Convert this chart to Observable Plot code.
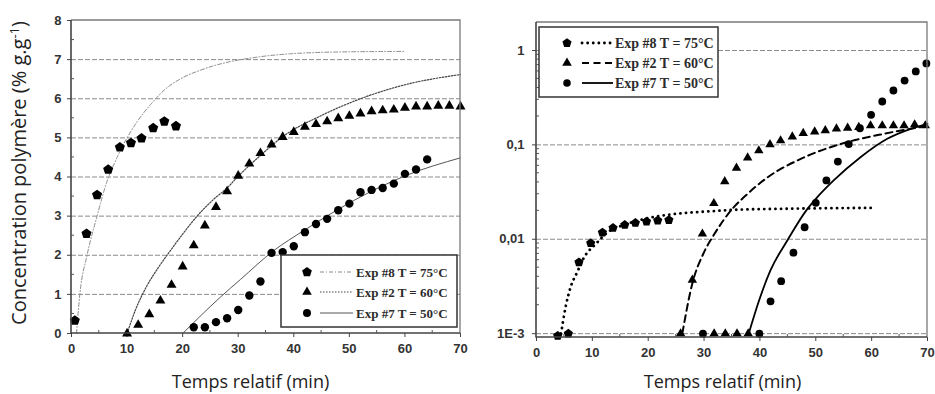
<!DOCTYPE html>
<html><head><meta charset="utf-8">
<script src="https://cdn.jsdelivr.net/npm/d3@7"></script>
<script src="https://cdn.jsdelivr.net/npm/@observablehq/plot@0.6"></script>
<style>
body{margin:0;background:#fff;}
#wrap{position:relative;width:935px;height:394px;overflow:hidden;background:#fff;}
#left{position:absolute;left:0;top:0;}
#right{position:absolute;left:470px;top:0;}
</style></head><body><div id="wrap"><div id="left"></div><div id="right"></div></div>
<script>
// ---------- DATA ----------
const seriesLabels = ["Exp #8 T = 75°C", "Exp #2 T = 60°C", "Exp #7 T = 50°C"];
const xTitle = "Temps relatif (min)";
const yTitleLeft = "Concentration polymère (% g.g";
const yTitleSup = "-1";

const xTicks = [0, 10, 20, 30, 40, 50, 60, 70];
const xMinor = [5, 15, 25, 35, 45, 55, 65];
const yTicksLeft = [0, 1, 2, 3, 4, 5, 6, 7, 8];
const yGridLeft = [1, 2, 3, 4, 5, 6, 7];
const yMinorLeft = [0.5, 1.5, 2.5, 3.5, 4.5, 5.5, 6.5, 7.5];
const yTicksRight = [0.001, 0.01, 0.1, 1];
const yTickLabelsRight = ["1E-3", "0,01", "0,1", "1"];
const yMinorRight = [0.002,0.003,0.004,0.005,0.006,0.007,0.008,0.009,0.02,0.03,0.04,0.05,0.06,0.07,0.08,0.09,0.2,0.3,0.4,0.5,0.6,0.7,0.8,0.9];

// Left panel (linear)
const exp8PtsLeft = [[0.6,0.33],[2.7,2.55],[4.6,3.54],[6.6,4.19],[8.7,4.76],[10.7,4.87],[12.6,4.99],[14.7,5.25],[16.7,5.42],[18.8,5.30]];
const exp8FitLeft = [[0.9,0],[1.5,1.0],[2.8,2.0],[4.6,3.0],[6.3,3.85],[8.2,4.5],[11.6,5.37],[14.4,5.88],[17,6.26],[19.5,6.5],[23.2,6.73],[28.6,6.95],[32.7,7.05],[39.4,7.15],[50,7.2],[60,7.21]];
const exp2PtsLeft = [[10,0],[12,0.22],[14,0.49],[16,0.84],[18,1.24],[20,1.71],[22,2.25],[24,2.76],[26,3.23],[28,3.63],[30,4.03],[32,4.34],[34,4.61],[36,4.83],[38,5.02],[40,5.15],[42,5.28],[44,5.35],[46,5.42],[48,5.5],[50,5.56],[52,5.62],[54,5.68],[56,5.7],[58,5.72],[60,5.77],[62,5.8],[64,5.8],[66,5.82],[68,5.82],[70,5.8]];
const exp2FitLeft = [[10,0],[11.5,0.6],[13.5,1.2],[15.6,1.68],[17.7,2.1],[19.9,2.52],[22.6,3.0],[25.5,3.42],[28,3.72],[30,4.02],[34,4.55],[38.2,5.05],[44.8,5.56],[52,6.0],[59.8,6.35],[70,6.62]];
const exp7PtsLeft = [[22,0.16],[24,0.16],[26,0.29],[28,0.39],[30,0.6],[32,0.97],[34,1.33],[36,2.06],[38,2.08],[40,2.23],[42,2.59],[44,2.8],[46,2.93],[48,3.15],[50,3.32],[52,3.61],[54,3.67],[56,3.72],[58,3.83],[60,4.08],[62,4.19],[64,4.45]];
const exp7FitLeft = [[20,0],[26.8,0.93],[30.4,1.38],[36.4,2.12],[41.8,2.63],[50.8,3.4],[60.4,4.05],[70,4.49]];

// Right panel (log)
const exp8PtsRight = [[3.8,0.00095],[5.7,0.001],[7.6,0.0057],[9.7,0.0091],[11.8,0.0118],[13.7,0.0132],[15.8,0.0142],[17.7,0.0149],[19.7,0.0154],[21.7,0.0158],[23.7,0.016]];
const exp8FitRight = [[4.4,0.001],[5.2,0.0019],[6.1,0.0031],[7.3,0.0045],[8.5,0.0064],[10.6,0.0089],[12.7,0.0118],[16.2,0.0145],[21.6,0.0175],[24.6,0.0185],[31.2,0.0198],[35.3,0.0205],[43.7,0.021],[60.4,0.0215]];
const exp2PtsRight = [[25.8,0.001],[27.9,0.0037],[29.7,0.0114],[31.75,0.024],[33.7,0.041],[35.8,0.057],[37.8,0.073],[39.8,0.087],[41.8,0.101],[43.7,0.111],[45.8,0.122],[47.75,0.133],[49.8,0.138],[51.7,0.142],[53.7,0.148],[55.7,0.151],[57.7,0.154],[59.8,0.16],[61.9,0.16],[63.9,0.16],[65.8,0.16],[67.7,0.164],[69.6,0.16],[31.8,0.001],[33.8,0.001],[35.9,0.001],[37.9,0.001]];
const exp2FitRight = [[26.1,0.001],[27.9,0.0034],[30,0.0073],[31.7,0.011],[35.3,0.0218],[37.1,0.0278],[41.3,0.045],[47.3,0.071],[54.4,0.102],[62.2,0.131],[69.3,0.156]];
const exp7PtsRight = [[29.8,0.001],[39.9,0.001],[41.9,0.0022],[43.8,0.0036],[46,0.0072],[48,0.0134],[50,0.0243],[51.9,0.042],[53.95,0.0665],[55.9,0.102],[57.9,0.15],[59.9,0.208],[61.9,0.288],[63.9,0.377],[65.9,0.48],[67.9,0.6],[69.8,0.73]];
const exp7FitRight = [[38,0.001],[39.8,0.0022],[41.9,0.0047],[44.9,0.0097],[48.5,0.021],[50,0.0268],[53.2,0.042],[58,0.074],[62.8,0.116],[67,0.148],[70,0.167]];

// ---------- RENDER ----------
const pentagon = {draw(ctx, size){
  const R = Math.sqrt(size / 2.3776);
  for (let i = 0; i < 5; i++) {
    const a = -Math.PI/2 + i*2*Math.PI/5;
    const px = R*Math.cos(a), py = R*Math.sin(a);
    if (i) ctx.lineTo(px, py); else ctx.moveTo(px, py);
  }
  ctx.closePath();
}};
const X = d => d[0], Y = d => d[1];
const tickFont = "'Liberation Sans', Arial, sans-serif";
const titleFont = "'Open Sans', 'Noto Sans', sans-serif";
const legendFont = "'Liberation Serif', 'DejaVu Serif', serif";

function overlay(cfg) {
  return (index, scales, values, dims) => {
    const {width, height, marginTop: mt, marginLeft: ml, marginRight: mr, marginBottom: mb} = dims;
    const x0 = ml, x1 = width - mr, y0 = mt, y1 = height - mb;
    const g = d3.create("svg:g");
    g.append("path").attr("d", `M${x0},${y0}H${x1}V${y1}`).attr("fill","none").attr("stroke","#7a7a7a").attr("stroke-width",1.3);
    g.append("path").attr("d", `M${x0},${y0}V${y1}H${x1}`).attr("fill","none").attr("stroke","#444").attr("stroke-width",1.6);
    cfg.yMinor.forEach(v => { const yy = scales.y(v);
      g.append("line").attr("x1",x0).attr("x2",x0+3).attr("y1",yy).attr("y2",yy).attr("stroke","#555").attr("stroke-width",1); });
    xMinor.forEach(v => { const xx = scales.x(v);
      g.append("line").attr("x1",xx).attr("x2",xx).attr("y1",y1).attr("y2",y1-3).attr("stroke","#555").attr("stroke-width",1); });
    // x title
    g.append("text").attr("x",(x0+x1)/2 + cfg.xTitleDx).attr("y",cfg.xTitleY).attr("text-anchor","middle")
      .attr("font-family",titleFont).attr("font-size",18).attr("font-weight","normal").attr("fill","#222").text(xTitle);
    if (cfg.yTitle) {
      const t = g.append("text").attr("transform",`translate(${cfg.yTitleX},${cfg.yTitleY}) rotate(-90)`).attr("text-anchor","middle")
        .attr("font-family",titleFont).attr("font-size",20).attr("font-weight","normal").attr("fill","#222");
      t.append("tspan").text(yTitleLeft);
      t.append("tspan").attr("dy",-7).attr("font-size",13).text(yTitleSup);
      t.append("tspan").attr("dy",7).text(")");
    }
    // legend
    const L = cfg.legend;
    g.append("rect").attr("x",L.x).attr("y",L.y).attr("width",L.w).attr("height",L.h)
      .attr("fill","#fff").attr("stroke","#333").attr("stroke-width",1.5);
    const syms = [pentagon, d3.symbolTriangle, d3.symbolCircle];
    seriesLabels.forEach((lab, i) => {
      const ry = L.rows[i];
      g.append("path").attr("transform",`translate(${L.mx},${ry})`).attr("d", d3.symbol(syms[i], L.sizes[i])()).attr("fill","#000");
      const st = L.lines[i];
      g.append("line").attr("x1",L.lx1).attr("x2",L.lx2).attr("y1",ry).attr("y2",ry)
        .attr("stroke",st.stroke).attr("stroke-width",st.w).attr("stroke-dasharray",st.dash).attr("stroke-linecap",st.cap || "butt");
      g.append("text").attr("x",L.tx).attr("y",ry).attr("dy","0.35em").attr("text-anchor","start").attr("font-family",legendFont)
        .attr("font-size",L.fs).attr("font-weight","bold").attr("fill","#2b2b2b").text(lab);
    });
    return g.node();
  };
}

const leftStyles = [
  {stroke:"#8c8c8c", w:1, dash:"4,2,1,2"},
  {stroke:"#444", w:1.2, dash:"1.5,1.5"},
  {stroke:"#555", w:1, dash:null}
];
const rightStyles = [
  {stroke:"#000", w:2.8, dash:"0.1,5.5", cap:"round"},
  {stroke:"#000", w:2, dash:"7,4.5"},
  {stroke:"#000", w:1.8, dash:null}
];

const left = Plot.plot({
  width: 470, height: 394, marginLeft: 71, marginRight: 10, marginTop: 20, marginBottom: 61,
  x: {domain: [0, 70]}, y: {domain: [0, 8]},
  style: {fontFamily: tickFont, fontSize: "13px", fontWeight: "bold", color: "#333", background: "#fff"},
  marks: [
    Plot.gridY({ticks: yGridLeft, stroke: "#8a8a8a", strokeOpacity: 1, strokeDasharray: "5,2", strokeWidth: 1}),
    Plot.axisY({ticks: yTicksLeft, tickSize: 4, tickPadding: 6, label: null, stroke: "#444"}),
    Plot.axisX({ticks: xTicks, tickSize: 4, tickPadding: 6, label: null, stroke: "#444"}),
    Plot.line(exp8FitLeft, {x: X, y: Y, curve: "monotone-x", stroke: leftStyles[0].stroke, strokeWidth: leftStyles[0].w, strokeDasharray: leftStyles[0].dash}),
    Plot.line(exp2FitLeft, {x: X, y: Y, curve: "monotone-x", stroke: leftStyles[1].stroke, strokeWidth: leftStyles[1].w, strokeDasharray: leftStyles[1].dash}),
    Plot.line(exp7FitLeft, {x: X, y: Y, curve: "monotone-x", stroke: leftStyles[2].stroke, strokeWidth: leftStyles[2].w}),
    Plot.dot(exp8PtsLeft, {x: X, y: Y, symbol: pentagon, r: 4.6, fill: "#000", stroke: "none"}),
    Plot.dot(exp2PtsLeft, {x: X, y: Y, symbol: "triangle", r: 3.7, fill: "#000", stroke: "none"}),
    Plot.dot(exp7PtsLeft, {x: X, y: Y, symbol: "circle", r: 4.2, fill: "#000", stroke: "none"}),
    overlay({
      yMinor: yMinorLeft, xTitleDx: -15, xTitleY: 388, yTitle: true, yTitleX: 26, yTitleY: 173,
      legend: {x: 281, y: 255, w: 176, h: 72, rows: [272, 292, 313], mx: 307, lx1: 320, lx2: 353, tx: 356, fs: 13,
        sizes: [62, 40, 50], lines: leftStyles}
    })
  ]
});

const right = Plot.plot({
  width: 465, height: 394, marginLeft: 66, marginRight: 8, marginTop: 22, marginBottom: 57,
  x: {domain: [0, 70]}, y: {type: "log", domain: [0.00091, 1.98]},
  style: {fontFamily: tickFont, fontSize: "13px", fontWeight: "bold", color: "#333", background: "#fff"},
  marks: [
    Plot.gridY({ticks: yTicksRight, stroke: "#8a8a8a", strokeOpacity: 1, strokeDasharray: "5,2", strokeWidth: 1}),
    Plot.axisY({ticks: yTicksRight, tickFormat: v => yTickLabelsRight[yTicksRight.indexOf(v)], tickSize: 4, tickPadding: 8, label: null, stroke: "#444"}),
    Plot.axisX({ticks: xTicks, tickSize: 4, tickPadding: 6, label: null, stroke: "#444"}),
    Plot.line(exp8FitRight, {x: X, y: Y, curve: "monotone-x", stroke: "#000", strokeWidth: rightStyles[0].w, strokeDasharray: rightStyles[0].dash, strokeLinecap: "round"}),
    Plot.line(exp2FitRight, {x: X, y: Y, curve: "monotone-x", stroke: "#000", strokeWidth: rightStyles[1].w, strokeDasharray: rightStyles[1].dash}),
    Plot.line(exp7FitRight, {x: X, y: Y, curve: "monotone-x", stroke: "#000", strokeWidth: rightStyles[2].w}),
    Plot.dot(exp8PtsRight, {x: X, y: Y, symbol: pentagon, r: 4.2, fill: "#000", stroke: "none"}),
    Plot.dot(exp2PtsRight, {x: X, y: Y, symbol: "triangle", r: 3.5, fill: "#000", stroke: "none"}),
    Plot.dot(exp7PtsRight, {x: X, y: Y, symbol: "circle", r: 3.9, fill: "#000", stroke: "none"}),
    overlay({
      yMinor: yMinorRight, xTitleDx: -9, xTitleY: 388, yTitle: false,
      legend: {x: 69, y: 27, w: 179, h: 70, rows: [43, 63, 83], mx: 97, lx1: 112, lx2: 143, tx: 145, fs: 14,
        sizes: [55, 40, 45], lines: rightStyles}
    })
  ]
});

document.getElementById("left").appendChild(left);
document.getElementById("right").appendChild(right);
</script>
</body></html>
